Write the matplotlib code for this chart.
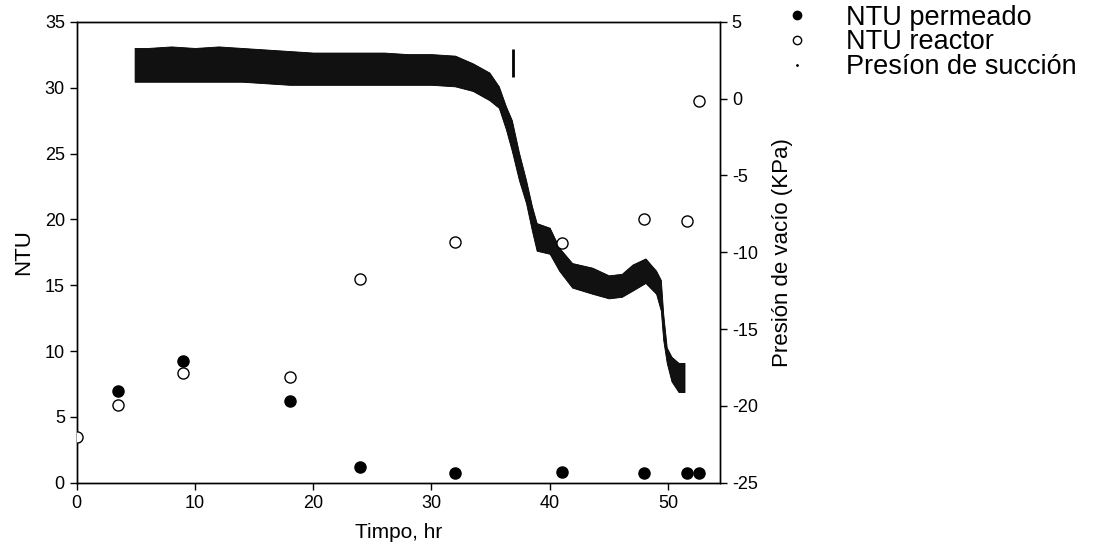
import matplotlib
matplotlib.use("Agg")
import matplotlib.pyplot as plt
from matplotlib.lines import Line2D

plt.rcParams['font.family'] = ['Liberation Sans', 'DejaVu Sans']
plt.rcParams['axes.unicode_minus'] = False

# NTU samples (time in hr)
t_perm = [3.5, 9, 18, 24, 32, 41, 48, 51.6, 52.6]
ntu_perm = [7.0, 9.25, 6.2, 1.2, 0.75, 0.82, 0.76, 0.76, 0.72]
t_reac = [0, 3.5, 9, 18, 24, 32, 41, 48, 51.6, 52.6]
ntu_reac = [3.45, 5.9, 8.35, 8.05, 15.5, 18.3, 18.2, 20.0, 19.9, 29.0]

# suction pressure record, read as the upper / lower edge of the dense trace (kPa)
t_pres = [4.9, 6, 8, 10, 12, 14, 16, 18, 20, 22, 24, 26, 28, 30, 32, 33.5, 34.9,
          35.7, 36.3, 36.8, 37.4, 38.0, 38.5, 38.9, 40.0, 40.8, 41.9, 43.6, 45.0,
          46.1, 47.0, 48.1, 49.0, 49.4, 49.6, 49.9, 50.3, 50.9, 51.4]
p_hi = [3.3, 3.3, 3.4, 3.3, 3.4, 3.3, 3.2, 3.1, 3.0, 3.0, 3.0, 3.0, 2.9, 2.9, 2.8,
        2.3, 1.7, 0.8, -0.5, -1.4, -3.5, -5.3, -7.0, -8.1, -8.4, -9.7, -10.7, -11.0,
        -11.5, -11.4, -10.8, -10.4, -11.2, -11.8, -14.0, -16.2, -16.8, -17.2, -17.2]
p_lo = [1.1, 1.1, 1.1, 1.1, 1.1, 1.1, 1.0, 0.9, 0.9, 0.9, 0.9, 0.9, 0.9, 0.9, 0.8,
        0.5, -0.1, -0.6, -2.0, -3.4, -5.3, -6.8, -8.6, -9.9, -10.1, -11.2, -12.3,
        -12.7, -13.0, -12.9, -12.5, -12.0, -12.7, -13.8, -15.7, -17.2, -18.4, -19.1, -19.1]
# short burst near 37 hr
t_spike = [36.9]
spike_lo = [1.4]
spike_hi = [3.2]

fig = plt.figure(figsize=(10.97, 5.6), dpi=100)
ax = fig.add_axes([0.0699, 0.138, 0.5864, 0.823])
ax2 = ax.twinx()

ax2.fill_between(t_pres, p_lo, p_hi, color='#111111', lw=0.6, edgecolor='black')
ax2.vlines(t_spike, spike_lo, spike_hi, color='black', lw=2.0)
ax2.set_ylim(-25, 5)
ax2.set_yticks(range(-25, 6, 5))
ax2.set_ylabel("Presión de vacío (KPa)", fontsize=16, labelpad=10)

ax.set_zorder(ax2.get_zorder() + 1)
ax.patch.set_visible(False)
ax.plot(t_perm, ntu_perm, 'o', color='black', ms=8, mec='black', zorder=5)
ax.plot(t_reac, ntu_reac, 'o', mfc='white', mec='black', ms=8, mew=1.0, zorder=5)
ax.set_xlim(0, 54.4)
ax.set_ylim(0, 35)
ax.set_xticks(range(0, 51, 10))
ax.set_yticks(range(0, 36, 5))
ax.set_xlabel("Timpo, hr", fontsize=15, labelpad=8)
ax.set_ylabel("NTU", fontsize=16, labelpad=8)

for a in (ax, ax2):
    a.tick_params(direction='out', length=5, width=1, labelsize=13)
    for s in a.spines.values():
        s.set_linewidth(1)

handles = [
    Line2D([], [], ls='none', marker='o', color='black', ms=6),
    Line2D([], [], ls='none', marker='o', mfc='white', mec='black', ms=6),
    Line2D([], [], ls='none', marker='.', color='black', ms=2),
]
labels = ["NTU permeado", "NTU reactor", "Presíon de succión"]
fig.legend(handles, labels, loc='upper left', bbox_to_anchor=(0.68, 1.035),
           frameon=False, fontsize=19.5, handletextpad=0.8, labelspacing=-0.05)

fig.savefig("out.png", dpi=100)
